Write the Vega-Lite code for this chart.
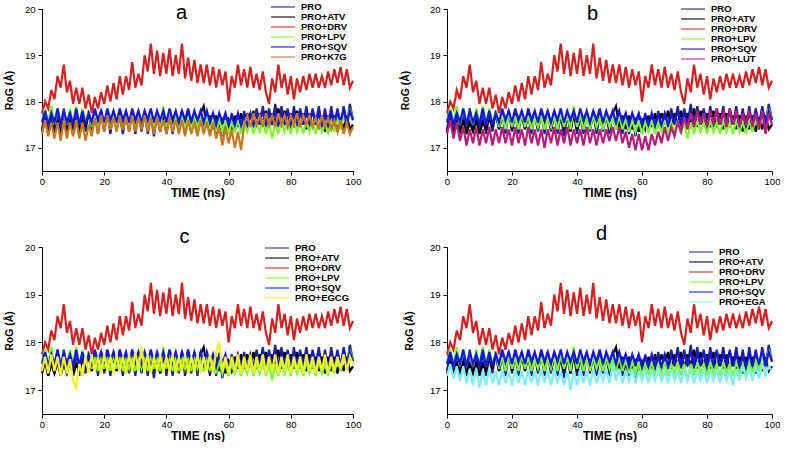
{
"$schema":"https://vega.github.io/schema/vega-lite/v6.json",
"background":"white",
"padding":{"left":4,"top":2,"right":0,"bottom":0},
"datasets":{"rog":[
{"t":0,"PRO":17.4,"PRO+ATV":17.35,"PRO+DRV":17.75,"PRO+LPV":17.6,"PRO+SQV":17.55,"PRO+K7G":17.3,"PRO+LUT":17.3,"PRO+EGCG":17.4,"PRO+EGA":17.3},
{"t":1,"PRO":17.75,"PRO+ATV":17.6,"PRO+DRV":18.0,"PRO+LPV":17.85,"PRO+SQV":17.8,"PRO+K7G":17.6,"PRO+LUT":17.6,"PRO+EGCG":17.7,"PRO+EGA":17.55},
{"t":2,"PRO":17.3,"PRO+ATV":17.3,"PRO+DRV":17.85,"PRO+LPV":17.55,"PRO+SQV":17.5,"PRO+K7G":17.25,"PRO+LUT":17.2,"PRO+EGCG":17.35,"PRO+EGA":17.25},
{"t":3,"PRO":17.8,"PRO+ATV":17.55,"PRO+DRV":18.25,"PRO+LPV":17.9,"PRO+SQV":17.75,"PRO+K7G":17.55,"PRO+LUT":17.55,"PRO+EGCG":17.75,"PRO+EGA":17.5},
{"t":4,"PRO":17.35,"PRO+ATV":17.35,"PRO+DRV":18.05,"PRO+LPV":17.5,"PRO+SQV":17.55,"PRO+K7G":17.2,"PRO+LUT":17.15,"PRO+EGCG":17.4,"PRO+EGA":17.2},
{"t":5,"PRO":17.7,"PRO+ATV":17.6,"PRO+DRV":18.55,"PRO+LPV":17.85,"PRO+SQV":17.85,"PRO+K7G":17.55,"PRO+LUT":17.45,"PRO+EGCG":17.7,"PRO+EGA":17.5},
{"t":6,"PRO":17.3,"PRO+ATV":17.3,"PRO+DRV":18.3,"PRO+LPV":17.55,"PRO+SQV":17.5,"PRO+K7G":17.15,"PRO+LUT":17.05,"PRO+EGCG":17.3,"PRO+EGA":17.15},
{"t":7,"PRO":17.85,"PRO+ATV":17.55,"PRO+DRV":18.8,"PRO+LPV":17.8,"PRO+SQV":17.8,"PRO+K7G":17.6,"PRO+LUT":17.4,"PRO+EGCG":17.7,"PRO+EGA":17.45},
{"t":8,"PRO":17.4,"PRO+ATV":17.35,"PRO+DRV":18.2,"PRO+LPV":17.5,"PRO+SQV":17.55,"PRO+K7G":17.2,"PRO+LUT":17.1,"PRO+EGCG":17.35,"PRO+EGA":17.1},
{"t":9,"PRO":17.75,"PRO+ATV":17.6,"PRO+DRV":18.45,"PRO+LPV":17.85,"PRO+SQV":17.75,"PRO+K7G":17.55,"PRO+LUT":17.45,"PRO+EGCG":17.65,"PRO+EGA":17.45},
{"t":10,"PRO":17.35,"PRO+ATV":17.3,"PRO+DRV":17.95,"PRO+LPV":17.55,"PRO+SQV":17.5,"PRO+K7G":17.25,"PRO+LUT":17.05,"PRO+EGCG":17.2,"PRO+EGA":17.05},
{"t":11,"PRO":17.8,"PRO+ATV":17.55,"PRO+DRV":18.3,"PRO+LPV":17.9,"PRO+SQV":17.85,"PRO+K7G":17.6,"PRO+LUT":17.4,"PRO+EGCG":17.05,"PRO+EGA":17.4},
{"t":12,"PRO":17.3,"PRO+ATV":17.4,"PRO+DRV":17.95,"PRO+LPV":17.5,"PRO+SQV":17.5,"PRO+K7G":17.2,"PRO+LUT":17.1,"PRO+EGCG":17.55,"PRO+EGA":17.1},
{"t":13,"PRO":17.7,"PRO+ATV":17.7,"PRO+DRV":18.3,"PRO+LPV":17.85,"PRO+SQV":17.8,"PRO+K7G":17.55,"PRO+LUT":17.45,"PRO+EGCG":17.3,"PRO+EGA":17.45},
{"t":14,"PRO":17.35,"PRO+ATV":17.45,"PRO+DRV":17.85,"PRO+LPV":17.55,"PRO+SQV":17.5,"PRO+K7G":17.15,"PRO+LUT":17.05,"PRO+EGCG":17.7,"PRO+EGA":17.15},
{"t":15,"PRO":17.8,"PRO+ATV":17.75,"PRO+DRV":18.15,"PRO+LPV":17.8,"PRO+SQV":17.75,"PRO+K7G":17.5,"PRO+LUT":17.4,"PRO+EGCG":17.35,"PRO+EGA":17.4},
{"t":16,"PRO":17.4,"PRO+ATV":17.4,"PRO+DRV":17.75,"PRO+LPV":17.45,"PRO+SQV":17.55,"PRO+K7G":17.25,"PRO+LUT":17.1,"PRO+EGCG":17.75,"PRO+EGA":17.1},
{"t":17,"PRO":17.75,"PRO+ATV":17.7,"PRO+DRV":18.1,"PRO+LPV":17.7,"PRO+SQV":17.85,"PRO+K7G":17.65,"PRO+LUT":17.45,"PRO+EGCG":17.4,"PRO+EGA":17.45},
{"t":18,"PRO":17.3,"PRO+ATV":17.45,"PRO+DRV":17.85,"PRO+LPV":17.4,"PRO+SQV":17.6,"PRO+K7G":17.3,"PRO+LUT":17.1,"PRO+EGCG":17.7,"PRO+EGA":17.15},
{"t":19,"PRO":17.8,"PRO+ATV":17.8,"PRO+DRV":18.2,"PRO+LPV":17.75,"PRO+SQV":17.8,"PRO+K7G":17.7,"PRO+LUT":17.4,"PRO+EGCG":17.35,"PRO+EGA":17.4},
{"t":20,"PRO":17.35,"PRO+ATV":17.4,"PRO+DRV":17.95,"PRO+LPV":17.45,"PRO+SQV":17.55,"PRO+K7G":17.35,"PRO+LUT":17.05,"PRO+EGCG":17.75,"PRO+EGA":17.1},
{"t":21,"PRO":17.75,"PRO+ATV":17.75,"PRO+DRV":18.35,"PRO+LPV":17.7,"PRO+SQV":17.85,"PRO+K7G":17.7,"PRO+LUT":17.45,"PRO+EGCG":17.4,"PRO+EGA":17.45},
{"t":22,"PRO":17.3,"PRO+ATV":17.45,"PRO+DRV":18.0,"PRO+LPV":17.4,"PRO+SQV":17.6,"PRO+K7G":17.4,"PRO+LUT":17.1,"PRO+EGCG":17.7,"PRO+EGA":17.15},
{"t":23,"PRO":17.8,"PRO+ATV":17.7,"PRO+DRV":18.4,"PRO+LPV":17.75,"PRO+SQV":17.8,"PRO+K7G":17.65,"PRO+LUT":17.4,"PRO+EGCG":17.35,"PRO+EGA":17.4},
{"t":24,"PRO":17.4,"PRO+ATV":17.4,"PRO+DRV":18.05,"PRO+LPV":17.45,"PRO+SQV":17.55,"PRO+K7G":17.35,"PRO+LUT":17.05,"PRO+EGCG":17.75,"PRO+EGA":17.1},
{"t":25,"PRO":17.7,"PRO+ATV":17.75,"PRO+DRV":18.55,"PRO+LPV":17.7,"PRO+SQV":17.85,"PRO+K7G":17.7,"PRO+LUT":17.45,"PRO+EGCG":17.4,"PRO+EGA":17.45},
{"t":26,"PRO":17.3,"PRO+ATV":17.45,"PRO+DRV":18.15,"PRO+LPV":17.4,"PRO+SQV":17.6,"PRO+K7G":17.4,"PRO+LUT":17.1,"PRO+EGCG":17.7,"PRO+EGA":17.15},
{"t":27,"PRO":17.75,"PRO+ATV":17.7,"PRO+DRV":18.55,"PRO+LPV":17.65,"PRO+SQV":17.8,"PRO+K7G":17.65,"PRO+LUT":17.4,"PRO+EGCG":17.35,"PRO+EGA":17.4},
{"t":28,"PRO":17.35,"PRO+ATV":17.4,"PRO+DRV":18.25,"PRO+LPV":17.45,"PRO+SQV":17.55,"PRO+K7G":17.35,"PRO+LUT":17.05,"PRO+EGCG":17.75,"PRO+EGA":17.1},
{"t":29,"PRO":17.8,"PRO+ATV":17.75,"PRO+DRV":18.85,"PRO+LPV":17.7,"PRO+SQV":17.85,"PRO+K7G":17.7,"PRO+LUT":17.4,"PRO+EGCG":17.4,"PRO+EGA":17.45},
{"t":30,"PRO":17.3,"PRO+ATV":17.45,"PRO+DRV":18.3,"PRO+LPV":17.4,"PRO+SQV":17.6,"PRO+K7G":17.35,"PRO+LUT":17.0,"PRO+EGCG":17.8,"PRO+EGA":17.15},
{"t":31,"PRO":17.75,"PRO+ATV":17.8,"PRO+DRV":18.6,"PRO+LPV":17.65,"PRO+SQV":17.8,"PRO+K7G":17.65,"PRO+LUT":17.4,"PRO+EGCG":17.4,"PRO+EGA":17.4},
{"t":32,"PRO":17.35,"PRO+ATV":17.4,"PRO+DRV":18.35,"PRO+LPV":17.45,"PRO+SQV":17.55,"PRO+K7G":17.4,"PRO+LUT":17.1,"PRO+EGCG":17.9,"PRO+EGA":17.1},
{"t":33,"PRO":17.8,"PRO+ATV":17.7,"PRO+DRV":19.0,"PRO+LPV":17.7,"PRO+SQV":17.8,"PRO+K7G":17.7,"PRO+LUT":17.45,"PRO+EGCG":17.4,"PRO+EGA":17.45},
{"t":34,"PRO":17.3,"PRO+ATV":17.45,"PRO+DRV":18.65,"PRO+LPV":17.4,"PRO+SQV":17.6,"PRO+K7G":17.35,"PRO+LUT":17.05,"PRO+EGCG":17.75,"PRO+EGA":17.15},
{"t":35,"PRO":17.7,"PRO+ATV":17.75,"PRO+DRV":19.25,"PRO+LPV":17.75,"PRO+SQV":17.85,"PRO+K7G":17.65,"PRO+LUT":17.4,"PRO+EGCG":17.35,"PRO+EGA":17.4},
{"t":36,"PRO":17.25,"PRO+ATV":17.4,"PRO+DRV":18.6,"PRO+LPV":17.45,"PRO+SQV":17.55,"PRO+K7G":17.3,"PRO+LUT":17.1,"PRO+EGCG":17.7,"PRO+EGA":17.1},
{"t":37,"PRO":17.75,"PRO+ATV":17.7,"PRO+DRV":19.1,"PRO+LPV":17.7,"PRO+SQV":17.8,"PRO+K7G":17.65,"PRO+LUT":17.45,"PRO+EGCG":17.4,"PRO+EGA":17.4},
{"t":38,"PRO":17.35,"PRO+ATV":17.35,"PRO+DRV":18.55,"PRO+LPV":17.4,"PRO+SQV":17.6,"PRO+K7G":17.35,"PRO+LUT":17.05,"PRO+EGCG":17.75,"PRO+EGA":17.0},
{"t":39,"PRO":17.8,"PRO+ATV":17.75,"PRO+DRV":19.05,"PRO+LPV":17.9,"PRO+SQV":17.8,"PRO+K7G":17.6,"PRO+LUT":17.4,"PRO+EGCG":17.35,"PRO+EGA":17.4},
{"t":40,"PRO":17.3,"PRO+ATV":17.4,"PRO+DRV":18.6,"PRO+LPV":17.45,"PRO+SQV":17.55,"PRO+K7G":17.3,"PRO+LUT":17.1,"PRO+EGCG":17.7,"PRO+EGA":17.1},
{"t":41,"PRO":17.7,"PRO+ATV":17.7,"PRO+DRV":19.15,"PRO+LPV":17.7,"PRO+SQV":17.85,"PRO+K7G":17.65,"PRO+LUT":17.4,"PRO+EGCG":17.4,"PRO+EGA":17.45},
{"t":42,"PRO":17.3,"PRO+ATV":17.45,"PRO+DRV":18.55,"PRO+LPV":17.4,"PRO+SQV":17.6,"PRO+K7G":17.35,"PRO+LUT":17.05,"PRO+EGCG":17.75,"PRO+EGA":17.15},
{"t":43,"PRO":17.75,"PRO+ATV":17.75,"PRO+DRV":19.0,"PRO+LPV":17.65,"PRO+SQV":17.8,"PRO+K7G":17.6,"PRO+LUT":17.45,"PRO+EGCG":17.35,"PRO+EGA":17.4},
{"t":44,"PRO":17.35,"PRO+ATV":17.4,"PRO+DRV":18.6,"PRO+LPV":17.4,"PRO+SQV":17.55,"PRO+K7G":17.3,"PRO+LUT":17.1,"PRO+EGCG":17.7,"PRO+EGA":17.1},
{"t":45,"PRO":17.8,"PRO+ATV":17.7,"PRO+DRV":19.25,"PRO+LPV":17.7,"PRO+SQV":17.8,"PRO+K7G":17.6,"PRO+LUT":17.4,"PRO+EGCG":17.4,"PRO+EGA":17.45},
{"t":46,"PRO":17.3,"PRO+ATV":17.4,"PRO+DRV":18.5,"PRO+LPV":17.45,"PRO+SQV":17.6,"PRO+K7G":17.25,"PRO+LUT":17.05,"PRO+EGCG":17.75,"PRO+EGA":17.15},
{"t":47,"PRO":17.7,"PRO+ATV":17.75,"PRO+DRV":18.95,"PRO+LPV":17.65,"PRO+SQV":17.85,"PRO+K7G":17.6,"PRO+LUT":17.4,"PRO+EGCG":17.35,"PRO+EGA":17.4},
{"t":48,"PRO":17.35,"PRO+ATV":17.45,"PRO+DRV":18.45,"PRO+LPV":17.4,"PRO+SQV":17.55,"PRO+K7G":17.3,"PRO+LUT":17.1,"PRO+EGCG":17.7,"PRO+EGA":17.2},
{"t":49,"PRO":17.75,"PRO+ATV":17.7,"PRO+DRV":18.9,"PRO+LPV":17.7,"PRO+SQV":17.8,"PRO+K7G":17.55,"PRO+LUT":17.4,"PRO+EGCG":17.4,"PRO+EGA":17.45},
{"t":50,"PRO":17.3,"PRO+ATV":17.4,"PRO+DRV":18.4,"PRO+LPV":17.45,"PRO+SQV":17.6,"PRO+K7G":17.25,"PRO+LUT":17.15,"PRO+EGCG":17.75,"PRO+EGA":17.15},
{"t":51,"PRO":17.8,"PRO+ATV":17.75,"PRO+DRV":18.8,"PRO+LPV":17.65,"PRO+SQV":17.8,"PRO+K7G":17.6,"PRO+LUT":17.45,"PRO+EGCG":17.35,"PRO+EGA":17.55},
{"t":52,"PRO":17.4,"PRO+ATV":17.9,"PRO+DRV":18.4,"PRO+LPV":17.4,"PRO+SQV":17.55,"PRO+K7G":17.3,"PRO+LUT":17.15,"PRO+EGCG":17.7,"PRO+EGA":17.2},
{"t":53,"PRO":17.7,"PRO+ATV":17.45,"PRO+DRV":18.8,"PRO+LPV":17.7,"PRO+SQV":17.8,"PRO+K7G":17.55,"PRO+LUT":17.45,"PRO+EGCG":17.4,"PRO+EGA":17.45},
{"t":54,"PRO":17.3,"PRO+ATV":17.7,"PRO+DRV":18.35,"PRO+LPV":17.4,"PRO+SQV":17.55,"PRO+K7G":17.25,"PRO+LUT":17.1,"PRO+EGCG":17.75,"PRO+EGA":17.15},
{"t":55,"PRO":17.75,"PRO+ATV":17.4,"PRO+DRV":18.75,"PRO+LPV":17.65,"PRO+SQV":17.75,"PRO+K7G":17.55,"PRO+LUT":17.35,"PRO+EGCG":17.35,"PRO+EGA":17.4},
{"t":56,"PRO":17.3,"PRO+ATV":17.7,"PRO+DRV":18.3,"PRO+LPV":17.35,"PRO+SQV":17.5,"PRO+K7G":17.2,"PRO+LUT":17.0,"PRO+EGCG":17.8,"PRO+EGA":17.2},
{"t":57,"PRO":17.7,"PRO+ATV":17.4,"PRO+DRV":18.7,"PRO+LPV":17.6,"PRO+SQV":17.75,"PRO+K7G":17.45,"PRO+LUT":17.3,"PRO+EGCG":18.0,"PRO+EGA":17.45},
{"t":58,"PRO":17.25,"PRO+ATV":17.65,"PRO+DRV":18.35,"PRO+LPV":17.35,"PRO+SQV":17.55,"PRO+K7G":17.05,"PRO+LUT":16.95,"PRO+EGCG":17.4,"PRO+EGA":17.15},
{"t":59,"PRO":17.7,"PRO+ATV":17.35,"PRO+DRV":18.65,"PRO+LPV":17.6,"PRO+SQV":17.75,"PRO+K7G":17.45,"PRO+LUT":17.3,"PRO+EGCG":17.7,"PRO+EGA":17.4},
{"t":60,"PRO":17.3,"PRO+ATV":17.6,"PRO+DRV":18.0,"PRO+LPV":17.3,"PRO+SQV":17.5,"PRO+K7G":17.1,"PRO+LUT":16.95,"PRO+EGCG":17.35,"PRO+EGA":17.2},
{"t":61,"PRO":17.75,"PRO+ATV":17.4,"PRO+DRV":18.55,"PRO+LPV":17.55,"PRO+SQV":17.7,"PRO+K7G":17.4,"PRO+LUT":17.25,"PRO+EGCG":17.7,"PRO+EGA":17.45},
{"t":62,"PRO":17.35,"PRO+ATV":17.7,"PRO+DRV":18.3,"PRO+LPV":17.35,"PRO+SQV":17.5,"PRO+K7G":17.0,"PRO+LUT":16.95,"PRO+EGCG":17.4,"PRO+EGA":17.15},
{"t":63,"PRO":17.7,"PRO+ATV":17.45,"PRO+DRV":18.8,"PRO+LPV":17.6,"PRO+SQV":17.75,"PRO+K7G":17.35,"PRO+LUT":17.3,"PRO+EGCG":17.75,"PRO+EGA":17.4},
{"t":64,"PRO":17.4,"PRO+ATV":17.75,"PRO+DRV":18.35,"PRO+LPV":17.3,"PRO+SQV":17.5,"PRO+K7G":16.95,"PRO+LUT":17.05,"PRO+EGCG":17.35,"PRO+EGA":17.2},
{"t":65,"PRO":17.8,"PRO+ATV":17.45,"PRO+DRV":18.7,"PRO+LPV":17.55,"PRO+SQV":17.7,"PRO+K7G":17.5,"PRO+LUT":17.35,"PRO+EGCG":17.7,"PRO+EGA":17.45},
{"t":66,"PRO":17.4,"PRO+ATV":17.75,"PRO+DRV":18.3,"PRO+LPV":17.35,"PRO+SQV":17.5,"PRO+K7G":17.7,"PRO+LUT":17.1,"PRO+EGCG":17.4,"PRO+EGA":17.2},
{"t":67,"PRO":17.75,"PRO+ATV":17.5,"PRO+DRV":18.75,"PRO+LPV":17.6,"PRO+SQV":17.75,"PRO+K7G":17.45,"PRO+LUT":17.45,"PRO+EGCG":17.75,"PRO+EGA":17.4},
{"t":68,"PRO":17.45,"PRO+ATV":17.8,"PRO+DRV":18.3,"PRO+LPV":17.3,"PRO+SQV":17.5,"PRO+K7G":17.75,"PRO+LUT":17.15,"PRO+EGCG":17.35,"PRO+EGA":17.15},
{"t":69,"PRO":17.85,"PRO+ATV":17.45,"PRO+DRV":18.6,"PRO+LPV":17.55,"PRO+SQV":17.7,"PRO+K7G":17.5,"PRO+LUT":17.45,"PRO+EGCG":17.7,"PRO+EGA":17.45},
{"t":70,"PRO":17.5,"PRO+ATV":17.75,"PRO+DRV":18.25,"PRO+LPV":17.35,"PRO+SQV":17.55,"PRO+K7G":17.7,"PRO+LUT":17.25,"PRO+EGCG":17.4,"PRO+EGA":17.2},
{"t":71,"PRO":17.9,"PRO+ATV":17.5,"PRO+DRV":18.65,"PRO+LPV":17.6,"PRO+SQV":17.8,"PRO+K7G":17.45,"PRO+LUT":17.55,"PRO+EGCG":17.75,"PRO+EGA":17.4},
{"t":72,"PRO":17.45,"PRO+ATV":17.8,"PRO+DRV":18.2,"PRO+LPV":17.3,"PRO+SQV":17.5,"PRO+K7G":17.75,"PRO+LUT":17.35,"PRO+EGCG":17.35,"PRO+EGA":17.15},
{"t":73,"PRO":17.85,"PRO+ATV":17.45,"PRO+DRV":17.95,"PRO+LPV":17.55,"PRO+SQV":17.75,"PRO+K7G":17.5,"PRO+LUT":17.65,"PRO+EGCG":17.7,"PRO+EGA":17.45},
{"t":74,"PRO":17.5,"PRO+ATV":17.75,"PRO+DRV":18.5,"PRO+LPV":17.2,"PRO+SQV":17.55,"PRO+K7G":17.7,"PRO+LUT":17.4,"PRO+EGCG":17.4,"PRO+EGA":17.2},
{"t":75,"PRO":17.95,"PRO+ATV":17.5,"PRO+DRV":18.2,"PRO+LPV":17.55,"PRO+SQV":17.8,"PRO+K7G":17.45,"PRO+LUT":17.75,"PRO+EGCG":17.75,"PRO+EGA":17.45},
{"t":76,"PRO":17.45,"PRO+ATV":17.85,"PRO+DRV":18.8,"PRO+LPV":17.3,"PRO+SQV":17.5,"PRO+K7G":17.75,"PRO+LUT":17.45,"PRO+EGCG":17.35,"PRO+EGA":17.15},
{"t":77,"PRO":17.9,"PRO+ATV":17.45,"PRO+DRV":18.3,"PRO+LPV":17.6,"PRO+SQV":17.75,"PRO+K7G":17.5,"PRO+LUT":17.8,"PRO+EGCG":17.7,"PRO+EGA":17.4},
{"t":78,"PRO":17.5,"PRO+ATV":17.8,"PRO+DRV":18.6,"PRO+LPV":17.35,"PRO+SQV":17.55,"PRO+K7G":17.7,"PRO+LUT":17.5,"PRO+EGCG":17.4,"PRO+EGA":17.2},
{"t":79,"PRO":17.85,"PRO+ATV":17.5,"PRO+DRV":18.15,"PRO+LPV":17.55,"PRO+SQV":17.8,"PRO+K7G":17.45,"PRO+LUT":17.75,"PRO+EGCG":17.75,"PRO+EGA":17.45},
{"t":80,"PRO":17.4,"PRO+ATV":17.75,"PRO+DRV":18.55,"PRO+LPV":17.3,"PRO+SQV":17.5,"PRO+K7G":17.7,"PRO+LUT":17.45,"PRO+EGCG":17.35,"PRO+EGA":17.15},
{"t":81,"PRO":17.9,"PRO+ATV":17.45,"PRO+DRV":18.05,"PRO+LPV":17.6,"PRO+SQV":17.75,"PRO+K7G":17.5,"PRO+LUT":17.8,"PRO+EGCG":17.7,"PRO+EGA":17.4},
{"t":82,"PRO":17.45,"PRO+ATV":17.8,"PRO+DRV":18.5,"PRO+LPV":17.35,"PRO+SQV":17.55,"PRO+K7G":17.75,"PRO+LUT":17.5,"PRO+EGCG":17.4,"PRO+EGA":17.2},
{"t":83,"PRO":17.85,"PRO+ATV":17.45,"PRO+DRV":18.2,"PRO+LPV":17.55,"PRO+SQV":17.8,"PRO+K7G":17.45,"PRO+LUT":17.85,"PRO+EGCG":17.7,"PRO+EGA":17.45},
{"t":84,"PRO":17.5,"PRO+ATV":17.75,"PRO+DRV":18.55,"PRO+LPV":17.3,"PRO+SQV":17.5,"PRO+K7G":17.7,"PRO+LUT":17.5,"PRO+EGCG":17.35,"PRO+EGA":17.15},
{"t":85,"PRO":17.9,"PRO+ATV":17.4,"PRO+DRV":18.25,"PRO+LPV":17.6,"PRO+SQV":17.75,"PRO+K7G":17.5,"PRO+LUT":17.8,"PRO+EGCG":17.75,"PRO+EGA":17.45},
{"t":86,"PRO":17.45,"PRO+ATV":17.75,"PRO+DRV":18.6,"PRO+LPV":17.35,"PRO+SQV":17.55,"PRO+K7G":17.7,"PRO+LUT":17.45,"PRO+EGCG":17.4,"PRO+EGA":17.2},
{"t":87,"PRO":17.85,"PRO+ATV":17.45,"PRO+DRV":18.3,"PRO+LPV":17.55,"PRO+SQV":17.8,"PRO+K7G":17.45,"PRO+LUT":17.85,"PRO+EGCG":17.7,"PRO+EGA":17.4},
{"t":88,"PRO":17.5,"PRO+ATV":17.7,"PRO+DRV":18.6,"PRO+LPV":17.3,"PRO+SQV":17.5,"PRO+K7G":17.65,"PRO+LUT":17.5,"PRO+EGCG":17.35,"PRO+EGA":17.1},
{"t":89,"PRO":17.9,"PRO+ATV":17.4,"PRO+DRV":18.3,"PRO+LPV":17.6,"PRO+SQV":17.75,"PRO+K7G":17.4,"PRO+LUT":17.8,"PRO+EGCG":17.7,"PRO+EGA":17.45},
{"t":90,"PRO":17.45,"PRO+ATV":17.7,"PRO+DRV":18.55,"PRO+LPV":17.35,"PRO+SQV":17.5,"PRO+K7G":17.7,"PRO+LUT":17.45,"PRO+EGCG":17.4,"PRO+EGA":17.2},
{"t":91,"PRO":17.85,"PRO+ATV":17.35,"PRO+DRV":18.3,"PRO+LPV":17.55,"PRO+SQV":17.7,"PRO+K7G":17.45,"PRO+LUT":17.75,"PRO+EGCG":17.75,"PRO+EGA":17.5},
{"t":92,"PRO":17.4,"PRO+ATV":17.7,"PRO+DRV":18.65,"PRO+LPV":17.3,"PRO+SQV":17.5,"PRO+K7G":17.65,"PRO+LUT":17.5,"PRO+EGCG":17.35,"PRO+EGA":17.25},
{"t":93,"PRO":17.9,"PRO+ATV":17.4,"PRO+DRV":18.35,"PRO+LPV":17.6,"PRO+SQV":17.75,"PRO+K7G":17.4,"PRO+LUT":17.8,"PRO+EGCG":17.7,"PRO+EGA":17.45},
{"t":94,"PRO":17.45,"PRO+ATV":17.7,"PRO+DRV":18.7,"PRO+LPV":17.35,"PRO+SQV":17.5,"PRO+K7G":17.6,"PRO+LUT":17.45,"PRO+EGCG":17.4,"PRO+EGA":17.2},
{"t":95,"PRO":17.85,"PRO+ATV":17.35,"PRO+DRV":18.4,"PRO+LPV":17.65,"PRO+SQV":17.8,"PRO+K7G":17.35,"PRO+LUT":17.75,"PRO+EGCG":17.7,"PRO+EGA":17.5},
{"t":96,"PRO":17.4,"PRO+ATV":17.65,"PRO+DRV":18.75,"PRO+LPV":17.4,"PRO+SQV":17.55,"PRO+K7G":17.6,"PRO+LUT":17.4,"PRO+EGCG":17.45,"PRO+EGA":17.25},
{"t":97,"PRO":17.9,"PRO+ATV":17.4,"PRO+DRV":18.35,"PRO+LPV":17.7,"PRO+SQV":17.85,"PRO+K7G":17.3,"PRO+LUT":17.8,"PRO+EGCG":17.75,"PRO+EGA":17.55},
{"t":98,"PRO":17.5,"PRO+ATV":17.7,"PRO+DRV":18.7,"PRO+LPV":17.5,"PRO+SQV":17.5,"PRO+K7G":17.55,"PRO+LUT":17.3,"PRO+EGCG":17.4,"PRO+EGA":17.3},
{"t":99,"PRO":17.95,"PRO+ATV":17.4,"PRO+DRV":18.3,"PRO+LPV":17.85,"PRO+SQV":17.8,"PRO+K7G":17.3,"PRO+LUT":17.75,"PRO+EGCG":17.7,"PRO+EGA":17.5},
{"t":100,"PRO":17.6,"PRO+ATV":17.5,"PRO+DRV":18.45,"PRO+LPV":17.6,"PRO+SQV":17.6,"PRO+K7G":17.45,"PRO+LUT":17.5,"PRO+EGCG":17.55,"PRO+EGA":17.4}
]},
"columns":2,
"bounds":"flush",
"spacing":{"row":76,"column":94},
"resolve":{"scale":{"color":"independent"},"legend":{"color":"independent"}},
"concat":[
{"width":311,"height":162,"data":{"name":"rog"},
 "transform":[{"fold":["PRO","PRO+ATV","PRO+DRV","PRO+LPV","PRO+SQV","PRO+K7G"],"as":["series","rog"]}],
 "title":{"text":"a","dx":-16,"offset":-21},
 "mark":{"type":"line","strokeWidth":2.2},
 "encoding":{
  "x":{"field":"t","type":"quantitative","scale":{"domain":[0,100],"nice":false},"axis":{"values":[0,20,40,60,80,100],"title":"TIME (ns)"}},
  "y":{"field":"rog","type":"quantitative","scale":{"domain":[16.5,20],"nice":false,"zero":false},"axis":{"values":[17,18,19,20],"title":"RoG (Å)","titlePadding":10}},
  "color":{"field":"series","type":"nominal","scale":{"domain":["PRO","PRO+ATV","PRO+DRV","PRO+LPV","PRO+SQV","PRO+K7G"],"range":["#23238e","#000000","#d62020","#7cfc2a","#1414f0","#c8781e"]},
   "legend":{"orient":"none","legendX":236,"legendY":-7}}
 }},
{"width":325,"height":162,"data":{"name":"rog"},
 "transform":[{"fold":["PRO","PRO+ATV","PRO+DRV","PRO+LPV","PRO+SQV","PRO+LUT"],"as":["series","rog"]}],
 "title":{"text":"b","dx":-17,"offset":-20},
 "mark":{"type":"line","strokeWidth":2.2},
 "encoding":{
  "x":{"field":"t","type":"quantitative","scale":{"domain":[0,100],"nice":false},"axis":{"values":[0,20,40,60,80,100],"title":"TIME (ns)"}},
  "y":{"field":"rog","type":"quantitative","scale":{"domain":[16.5,20],"nice":false,"zero":false},"axis":{"values":[17,18,19,20],"title":"RoG (Å)","titlePadding":19}},
  "color":{"field":"series","type":"nominal","scale":{"domain":["PRO","PRO+ATV","PRO+DRV","PRO+LPV","PRO+SQV","PRO+LUT"],"range":["#23238e","#000000","#d62020","#7cfc2a","#1414f0","#b81c78"]},
   "legend":{"orient":"none","legendX":241,"legendY":-5}}
 }},
{"width":311,"height":167,"data":{"name":"rog"},
 "transform":[{"fold":["PRO","PRO+ATV","PRO+DRV","PRO+LPV","PRO+SQV","PRO+EGCG"],"as":["series","rog"]}],
 "title":{"text":"c","dx":-13,"offset":-4.5},
 "mark":{"type":"line","strokeWidth":2.2},
 "encoding":{
  "x":{"field":"t","type":"quantitative","scale":{"domain":[0,100],"nice":false},"axis":{"values":[0,20,40,60,80,100],"title":"TIME (ns)"}},
  "y":{"field":"rog","type":"quantitative","scale":{"domain":[16.5,20],"nice":false,"zero":false},"axis":{"values":[17,18,19,20],"title":"RoG (Å)","titlePadding":10}},
  "color":{"field":"series","type":"nominal","scale":{"domain":["PRO","PRO+ATV","PRO+DRV","PRO+LPV","PRO+SQV","PRO+EGCG"],"range":["#23238e","#000000","#d62020","#7cfc2a","#1414f0","#f5f51e"]},
   "legend":{"orient":"none","legendX":230,"legendY":-4}}
 }},
{"width":325,"height":167,"data":{"name":"rog"},
 "transform":[{"fold":["PRO","PRO+ATV","PRO+DRV","PRO+LPV","PRO+SQV","PRO+EGA"],"as":["series","rog"]}],
 "title":{"text":"d","dx":-8,"offset":-2},
 "mark":{"type":"line","strokeWidth":2.2},
 "encoding":{
  "x":{"field":"t","type":"quantitative","scale":{"domain":[0,100],"nice":false},"axis":{"values":[0,20,40,60,80,100],"title":"TIME (ns)"}},
  "y":{"field":"rog","type":"quantitative","scale":{"domain":[16.5,20],"nice":false,"zero":false},"axis":{"values":[17,18,19,20],"title":"RoG (Å)","titlePadding":15}},
  "color":{"field":"series","type":"nominal","scale":{"domain":["PRO","PRO+ATV","PRO+DRV","PRO+LPV","PRO+SQV","PRO+EGA"],"range":["#23238e","#000000","#d62020","#7cfc2a","#1414f0","#80eef5"]},
   "legend":{"orient":"none","legendX":249,"legendY":0}}
 }}
],
"config":{
 "view":{"stroke":null},
 "font":"Liberation Sans",
 "axis":{"grid":false,"domainColor":"#000000","tickColor":"#000000","labelColor":"#000000","titleColor":"#000000","labelFont":"Liberation Sans","titleFont":"Liberation Sans","labelFontSize":9.5,"titleFontWeight":"bold","tickSize":4,"labelFlush":false,"labelOverlap":false},
 "axisX":{"titleFontSize":12,"labelPadding":1,"titlePadding":2},
 "axisY":{"titleFontSize":10.5,"labelPadding":3},
 "title":{"font":"Liberation Sans","fontSize":20,"fontWeight":"normal","color":"#000000","anchor":"middle","baseline":"alphabetic"},
 "legend":{"title":null,"symbolType":"M-3,0H3","symbolSize":64,"symbolStrokeWidth":1.5,"symbolOpacity":0.7,"labelFont":"Liberation Sans","labelFontSize":9.5,"labelFontWeight":"bold","labelColor":"#000000","labelOffset":13,"rowPadding":-3,"padding":0}
}
}
